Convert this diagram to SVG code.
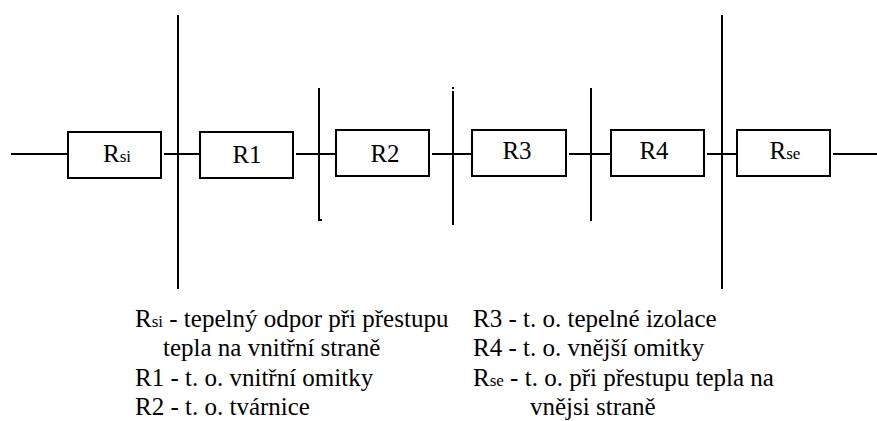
<svg xmlns="http://www.w3.org/2000/svg" width="877" height="421" viewBox="0 0 877 421">
<style>
.ln{stroke:#000;stroke-width:2;fill:none}
.bx{stroke:#000;stroke-width:2;fill:#fff}
.lab{text-anchor:middle}
</style>
<rect width="877" height="421" fill="#fff"/>
<g id="connectors">
<line class="ln" x1="11" y1="154" x2="68" y2="154"/>
<line class="ln" x1="164" y1="154" x2="200" y2="154"/>
<line class="ln" x1="296" y1="154" x2="336" y2="154"/>
<line class="ln" x1="432" y1="154" x2="472" y2="154"/>
<line class="ln" x1="569" y1="154" x2="611" y2="154"/>
<line class="ln" x1="707" y1="154" x2="737" y2="154"/>
<line class="ln" x1="833" y1="154" x2="877" y2="154"/>
<line class="ln" x1="178" y1="15" x2="178" y2="289"/>
<path class="ln" d="M319 88V220H322"/>
<line class="ln" x1="453" y1="91" x2="453" y2="225"/>
<rect x="452" y="87" width="2" height="2" fill="#000"/>
<line class="ln" x1="591" y1="88" x2="591" y2="221"/>
<line class="ln" x1="722" y1="15" x2="722" y2="289"/>
</g>
<g id="Rsi">
<rect class="bx" x="68" y="132" width="93" height="46"/>
<text class="lab" x="117" y="162" font-family="'Liberation Serif', serif" font-size="25">R<tspan font-size="17">si</tspan></text>
</g>
<g id="R1">
<rect class="bx" x="200" y="132" width="93" height="46"/>
<text class="lab" x="247" y="163" font-family="'Liberation Serif', serif" font-size="25">R1</text>
</g>
<g id="R2">
<rect class="bx" x="336" y="130" width="93" height="46"/>
<text class="lab" x="385" y="162" font-family="'Liberation Serif', serif" font-size="25">R2</text>
</g>
<g id="R3">
<rect class="bx" x="472" y="130" width="94" height="46"/>
<text class="lab" x="517" y="159" font-family="'Liberation Serif', serif" font-size="25">R3</text>
</g>
<g id="R4">
<rect class="bx" x="611" y="130" width="93" height="46"/>
<text class="lab" x="654" y="159" font-family="'Liberation Serif', serif" font-size="25">R4</text>
</g>
<g id="Rse">
<rect class="bx" x="737" y="130" width="93" height="46"/>
<text class="lab" x="785" y="159" font-family="'Liberation Serif', serif" font-size="25">R<tspan font-size="17">se</tspan></text>
</g>
<g id="legend">
<text x="135" y="327" font-family="'Liberation Serif', serif" font-size="25">R<tspan font-size="17">si</tspan> - tepelný odpor při přestupu</text>
<text x="163" y="356" font-family="'Liberation Serif', serif" font-size="25">tepla na vnitřní straně</text>
<text x="135" y="386" font-family="'Liberation Serif', serif" font-size="25">R1 - t. o. vnitřní omitky</text>
<text x="135" y="415" font-family="'Liberation Serif', serif" font-size="25">R2 - t. o. tvárnice</text>
<text x="473" y="327" font-family="'Liberation Serif', serif" font-size="25">R3 - t. o. tepelné izolace</text>
<text x="473" y="356" font-family="'Liberation Serif', serif" font-size="25">R4 - t. o. vnější omitky</text>
<text x="473" y="386" font-family="'Liberation Serif', serif" font-size="25">R<tspan font-size="17">se</tspan> - t. o. při přestupu tepla na</text>
<text x="530" y="415" font-family="'Liberation Serif', serif" font-size="25">vnějsi straně</text>
</g>
</svg>
